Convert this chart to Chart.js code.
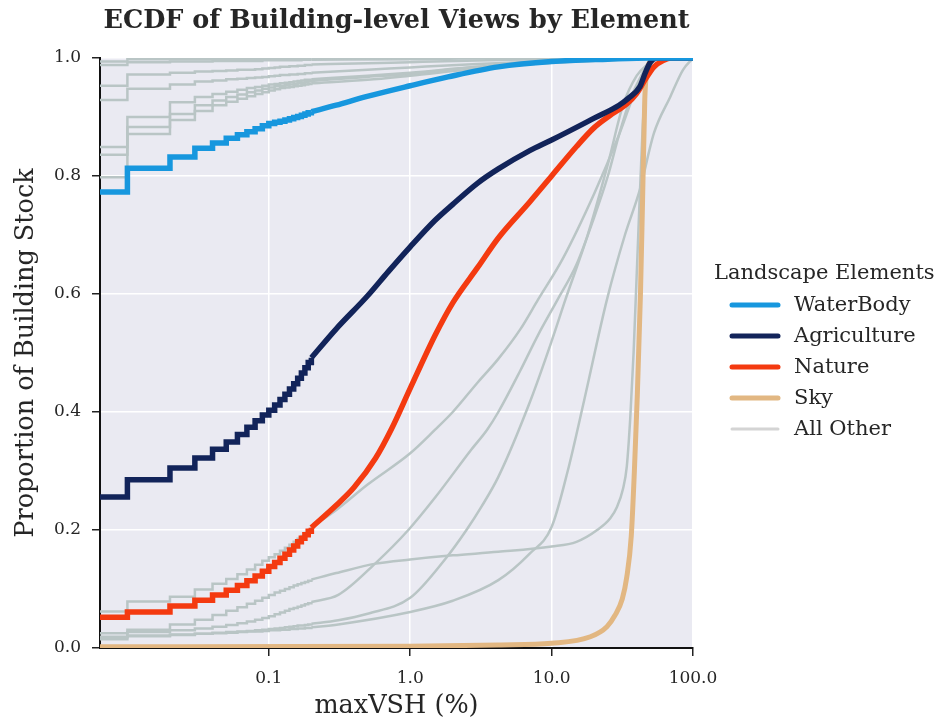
<!DOCTYPE html>
<html>
<head>
<meta charset="utf-8">
<script src="https://cdn.jsdelivr.net/npm/chart.js@4.4.1/dist/chart.umd.min.js"></script>
<style>
  html, body { margin: 0; padding: 0; background: #fff; }
</style>
</head>
<body>
<canvas id="ecdfChart" width="939" height="722"></canvas>
<script>
// x positions of the low-end ECDF steps (values are recorded in 0.01 % increments)
const stepX = [0.0064, 0.01, 0.02, 0.03, 0.04, 0.05, 0.06, 0.07, 0.08, 0.09, 0.1,
               0.11, 0.12, 0.13, 0.14, 0.15, 0.16, 0.17, 0.18, 0.19, 0.2];

// highlighted elements: step part (on stepX) + smooth tail as [x, y]
const waterBodySteps = [0.773, 0.813, 0.832, 0.847, 0.856, 0.864, 0.870, 0.875, 0.880, 0.885, 0.889,
                        0.891, 0.893, 0.895, 0.897, 0.899, 0.901, 0.903, 0.905, 0.907, 0.909];
const waterBodyTail = [[0.2, 0.909], [0.3, 0.920], [0.48, 0.934], [1, 0.953], [1.85, 0.968], [4.2, 0.985],
                       [10, 0.994], [25, 0.998], [50, 1], [100, 1]];

const agricultureSteps = [0.256, 0.285, 0.305, 0.322, 0.337, 0.349, 0.362, 0.374, 0.385, 0.395, 0.403,
                          0.412, 0.421, 0.430, 0.439, 0.448, 0.457, 0.466, 0.475, 0.484, 0.492];
const agricultureTail = [[0.2, 0.492], [0.3, 0.541], [0.5, 0.597], [0.7, 0.638], [1, 0.68], [1.5, 0.725],
                         [2, 0.752], [3, 0.788], [4.2, 0.812], [7, 0.843], [10, 0.861], [20, 0.898],
                         [30, 0.92], [35, 0.932], [42, 0.951], [46, 0.975], [50, 0.993], [55, 1], [100, 1]];

const natureSteps = [0.052, 0.061, 0.071, 0.081, 0.090, 0.098, 0.106, 0.114, 0.122, 0.130, 0.138,
                     0.145, 0.152, 0.159, 0.166, 0.173, 0.180, 0.186, 0.192, 0.198, 0.204];
const natureTail = [[0.2, 0.204], [0.3, 0.242], [0.4, 0.272], [0.57, 0.322], [0.74, 0.372], [1, 0.44],
                    [1.5, 0.53], [2, 0.585], [3, 0.645], [4.2, 0.695], [7, 0.756], [10, 0.80],
                    [15, 0.85], [20, 0.882], [26, 0.903], [34, 0.922], [40, 0.94], [45, 0.96],
                    [53, 0.985], [62, 0.996], [70, 1], [100, 1]];

const skyTail = [[0.0064, 0.002], [1, 0.003], [4.2, 0.005], [10, 0.008], [18.8, 0.019], [24.6, 0.036],
                 [28, 0.055], [31.6, 0.083], [34, 0.12], [36.6, 0.19], [38.5, 0.3], [40.4, 0.43],
                 [42.5, 0.6], [44, 0.76], [45.6, 0.93], [48, 0.985], [52, 0.998], [60, 1], [100, 1]];

// remaining landscape elements, drawn in grey
const otherSteps = [
  [0.994, 0.998, 0.998, 0.998, 0.998, 0.998, 0.998, 0.998, 0.998, 0.998, 0.999, 0.999, 0.999, 0.999, 0.999, 0.999, 0.999, 0.999, 0.999, 0.999, 0.999],
  [0.988, 0.993, 0.994, 0.994, 0.995, 0.995, 0.995, 0.995, 0.995, 0.996, 0.996, 0.996, 0.996, 0.996, 0.996, 0.996, 0.996, 0.997, 0.997, 0.997, 0.997],
  [0.953, 0.972, 0.975, 0.977, 0.978, 0.979, 0.980, 0.980, 0.981, 0.982, 0.983, 0.984, 0.985, 0.985, 0.986, 0.986, 0.987, 0.987, 0.988, 0.988, 0.989],
  [0.929, 0.948, 0.955, 0.960, 0.962, 0.964, 0.965, 0.966, 0.967, 0.968, 0.969, 0.970, 0.971, 0.971, 0.972, 0.972, 0.973, 0.973, 0.974, 0.974, 0.975],
  [0.849, 0.900, 0.925, 0.934, 0.939, 0.943, 0.946, 0.949, 0.951, 0.953, 0.955, 0.956, 0.957, 0.958, 0.959, 0.960, 0.961, 0.962, 0.963, 0.963, 0.964],
  [0.836, 0.883, 0.905, 0.920, 0.928, 0.934, 0.938, 0.942, 0.945, 0.948, 0.950, 0.952, 0.953, 0.954, 0.955, 0.956, 0.957, 0.958, 0.959, 0.960, 0.961],
  [0.798, 0.871, 0.895, 0.910, 0.920, 0.926, 0.931, 0.935, 0.939, 0.942, 0.945, 0.947, 0.949, 0.950, 0.951, 0.952, 0.953, 0.954, 0.955, 0.956, 0.957],
  [0.062, 0.079, 0.087, 0.099, 0.109, 0.117, 0.125, 0.133, 0.141, 0.148, 0.154, 0.159, 0.165, 0.170, 0.175, 0.180, 0.185, 0.190, 0.195, 0.200, 0.205],
  [0.025, 0.031, 0.040, 0.048, 0.056, 0.063, 0.069, 0.075, 0.080, 0.085, 0.090, 0.094, 0.097, 0.100, 0.103, 0.106, 0.108, 0.110, 0.112, 0.114, 0.116],
  [0.019, 0.027, 0.030, 0.033, 0.036, 0.039, 0.042, 0.045, 0.048, 0.051, 0.054, 0.057, 0.060, 0.063, 0.066, 0.068, 0.070, 0.072, 0.074, 0.076, 0.078],
  [0.015, 0.020, 0.022, 0.024, 0.026, 0.027, 0.028, 0.029, 0.030, 0.031, 0.032, 0.033, 0.034, 0.035, 0.036, 0.037, 0.038, 0.038, 0.039, 0.040, 0.041],
  [0.018, 0.021, 0.023, 0.024, 0.025, 0.026, 0.027, 0.028, 0.028, 0.029, 0.030, 0.030, 0.031, 0.031, 0.032, 0.032, 0.033, 0.033, 0.034, 0.034, 0.035]
];
const otherTails = [
  [[0.2, 0.999], [1, 1], [100, 1]],
  [[0.2, 0.997], [1, 0.998], [5, 1], [100, 1]],
  [[0.2, 0.989], [0.5, 0.991], [1, 0.993], [5, 0.997], [20, 0.999], [50, 1], [100, 1]],
  [[0.2, 0.975], [0.5, 0.98], [1, 0.984], [3, 0.99], [10, 0.995], [30, 0.998], [60, 1], [100, 1]],
  [[0.2, 0.964], [0.5, 0.97], [1, 0.975], [3, 0.985], [10, 0.992], [30, 0.997], [60, 1], [100, 1]],
  [[0.2, 0.961], [0.5, 0.968], [1, 0.973], [1.85, 0.98], [5, 0.99], [15, 0.996], [50, 1], [100, 1]],
  [[0.2, 0.957], [0.5, 0.963], [1, 0.97], [3, 0.982], [10, 0.992], [30, 0.997], [60, 1], [100, 1]],
  [[0.2, 0.205], [0.3, 0.234], [0.5, 0.277], [1, 0.33], [1.5, 0.37], [2, 0.40], [3, 0.45], [4.2, 0.49],
   [6, 0.54], [8, 0.59], [12, 0.66], [20, 0.77], [30, 0.87], [40, 0.95], [48, 0.985], [55, 0.997], [70, 1], [100, 1]],
  [[0.2, 0.116], [0.3, 0.127], [0.57, 0.143], [1, 0.15], [2, 0.157], [4.2, 0.163], [10, 0.172], [15, 0.18],
   [21, 0.20], [26, 0.22], [29, 0.239], [32, 0.27], [34, 0.307], [36, 0.39], [38, 0.5], [41, 0.7],
   [44, 0.88], [47, 0.97], [52, 0.995], [60, 1], [100, 1]],
  [[0.2, 0.078], [0.31, 0.09], [0.57, 0.144], [0.97, 0.2], [1.5, 0.255], [2.7, 0.336], [3.5, 0.37], [4.2, 0.40],
   [6, 0.47], [8, 0.53], [11, 0.59], [15, 0.65], [20, 0.73], [25, 0.80], [30, 0.87], [36, 0.93],
   [42, 0.965], [48, 0.99], [55, 1], [100, 1]],
  [[0.2, 0.041], [0.31, 0.047], [0.5, 0.058], [1, 0.085], [1.76, 0.15], [2.5, 0.2], [3.2, 0.24], [4.2, 0.29],
   [7.1, 0.42], [10, 0.52], [12.5, 0.59], [18, 0.7], [25, 0.82], [32, 0.92], [40, 0.97], [48, 0.99], [55, 1], [100, 1]],
  [[0.2, 0.035], [0.31, 0.04], [1, 0.061], [2, 0.08], [4.2, 0.115], [7, 0.16], [10, 0.205], [13, 0.3],
   [17, 0.42], [24.6, 0.59], [33, 0.7], [42, 0.776], [53, 0.873], [69, 0.934], [85, 0.98], [100, 1]]
];

const xTickValues = [0.1, 1, 10, 100];
const legendLabels = ['WaterBody', 'Agriculture', 'Nature', 'Sky', 'All Other'];
const legendColors = ['#1797de', '#12245a', '#f43a10', '#e2b782', '#d4d4d4'];
const otherColor = '#b9c5c5';

const FONT = '"DejaVu Serif", serif';
const TEXT = '#262626';

const toSteps = ys => stepX.map((x, i) => ({ x: x, y: ys[i] }));
const toCurve = pairs => pairs.map(p => ({ x: p[0], y: p[1] }));

function stepSet(ys, color, width) {
    return { data: toSteps(ys), borderColor: color, borderWidth: width, stepped: 'before',
             pointRadius: 0, fill: false, clip: 0 };
}
function tailSet(pairs, color, width) {
    return { data: toCurve(pairs), borderColor: color, borderWidth: width, cubicInterpolationMode: 'monotone',
             pointRadius: 0, fill: false, clip: 0, borderJoinStyle: 'round' };
}

// first dataset is painted last, so highlighted lines go first
const datasets = [
    stepSet(waterBodySteps, legendColors[0], 5.5), tailSet(waterBodyTail, legendColors[0], 5.5),
    stepSet(agricultureSteps, legendColors[1], 5.5), tailSet(agricultureTail, legendColors[1], 5.5),
    stepSet(natureSteps, legendColors[2], 5.5), tailSet(natureTail, legendColors[2], 5.5),
    tailSet(skyTail, legendColors[3], 5)
];
otherSteps.forEach((ys, i) => {
    datasets.push(stepSet(ys, otherColor, 2.5));
    datasets.push(tailSet(otherTails[i], otherColor, 2.5));
});

const plotDecor = {
    id: 'plotDecor',
    beforeDraw(chart) {
        const { ctx, chartArea: a } = chart;
        ctx.save();
        ctx.fillStyle = '#eaeaf2';
        ctx.fillRect(a.left, a.top, a.right - a.left, a.bottom - a.top);
        ctx.restore();
    },
    afterDraw(chart) {
        const { ctx, chartArea: a } = chart;
        ctx.save();
        ctx.fillStyle = TEXT;
        ctx.textBaseline = 'middle';
        ctx.textAlign = 'center';
        ctx.font = 'bold 25.5px ' + FONT;
        ctx.fillText('ECDF of Building-level Views by Element', (a.left + a.right) / 2, 21);

        // legend
        ctx.textAlign = 'left';
        ctx.font = '21px ' + FONT;
        ctx.fillText('Landscape Elements', 714, 274);
        legendLabels.forEach((label, i) => {
            const y = 306 + i * 31;
            ctx.strokeStyle = legendColors[i];
            ctx.lineWidth = i === 4 ? 3 : 5;
            ctx.lineCap = 'round';
            ctx.beginPath();
            ctx.moveTo(732, y - 1);
            ctx.lineTo(778, y - 1);
            ctx.stroke();
            ctx.fillText(label, 794, y);
        });
        ctx.restore();
    }
};

new Chart(document.getElementById('ecdfChart'), {
    type: 'line',
    data: { datasets: datasets },
    plugins: [plotDecor],
    options: {
        responsive: false,
        animation: false,
        events: [],
        layout: { padding: { left: 0, right: 246, top: 58, bottom: 0 } },
        plugins: { legend: { display: false }, title: { display: false }, tooltip: { enabled: false } },
        scales: {
            x: {
                type: 'logarithmic',
                min: 0.0064,
                max: 100,
                afterBuildTicks: s => { s.ticks = xTickValues.map(v => ({ value: v })); },
                afterFit: s => { s.height = 74; s.paddingLeft = 0; s.paddingRight = 0; },
                ticks: {
                    callback: v => Number(v).toFixed(1),
                    autoSkip: false, maxRotation: 0, padding: 12,
                    color: TEXT, font: { family: FONT, size: 17 }
                },
                grid: { color: '#ffffff', lineWidth: 1.5, tickLength: 8, tickColor: '#222222', tickWidth: 1.5 },
                border: { display: true, color: '#111111', width: 2 },
                title: {
                    display: true, text: 'maxVSH (%)', color: TEXT,
                    font: { family: FONT, size: 25.5 }, padding: { top: 0, bottom: 0 }
                }
            },
            y: {
                min: 0,
                max: 1,
                afterFit: s => { s.width = 100; s.paddingTop = 0; s.paddingBottom = 0; },
                ticks: {
                    stepSize: 0.2,
                    callback: v => Number(v).toFixed(1),
                    padding: 11, color: TEXT, font: { family: FONT, size: 17 }
                },
                grid: { color: '#ffffff', lineWidth: 1.5, tickLength: 8, tickColor: '#222222', tickWidth: 1.5 },
                border: { display: true, color: '#111111', width: 2 },
                title: {
                    display: true, text: 'Proportion of Building Stock', color: TEXT,
                    font: { family: FONT, size: 25.5 }, padding: { top: 11, bottom: 0 }
                }
            }
        }
    }
});
</script>
</body>
</html>
